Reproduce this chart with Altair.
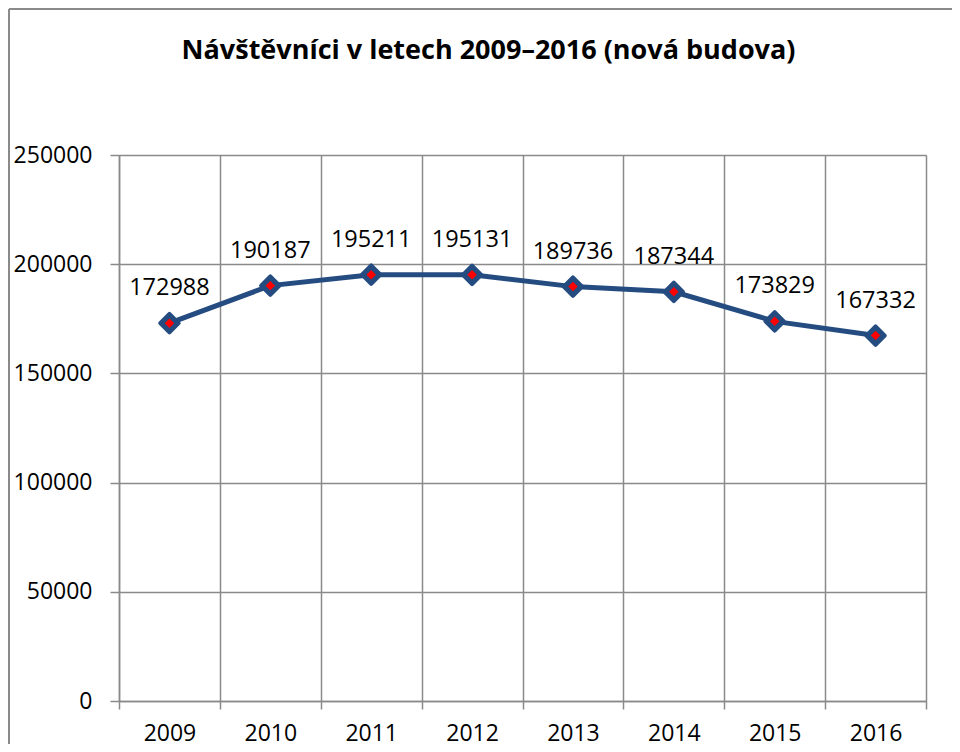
import altair as alt
import pandas as pd

years = [2009, 2010, 2011, 2012, 2013, 2014, 2015, 2016]
visitors = [172988, 190187, 195211, 195131, 189736, 187344, 173829, 167332]
y_ticks = [0, 50000, 100000, 150000, 200000, 250000]
title_text = "Návštěvníci v letech 2009–2016 (nová budova)"

df = pd.DataFrame({"year": years, "visitors": visitors})

FONT = "Open Sans"
GRAY = "#8a8a8a"
BLUE = "#254C80"
FS = 23

x_values = [y - 0.5 for y in years] + [years[-1] + 0.5] + years

x_enc = alt.X(
    "year:Q",
    scale=alt.Scale(domain=[years[0] - 0.5, years[-1] + 0.5], nice=False, zero=False),
    axis=alt.Axis(
        title=None,
        values=x_values,
        labelExpr="datum.value % 1 === 0 ? format(datum.value, 'd') : ''",
        labelFont=FONT,
        labelFontSize=FS,
        labelColor="black",
        labelPadding=13,
        labelFlush=False,
        labelOverlap=False,
        tickSize=8,
        tickColor=GRAY,
        tickWidth=1.5,
        tickOpacity={"condition": {"test": "datum.value % 1 !== 0", "value": 1}, "value": 0},
        grid=True,
        gridColor=GRAY,
        gridWidth=1.5,
        gridOpacity={"condition": {"test": "datum.value % 1 !== 0", "value": 1}, "value": 0},
        domainColor=GRAY,
        domainWidth=1.5,
    ),
)

y_enc = alt.Y(
    "visitors:Q",
    scale=alt.Scale(domain=[0, 250000], nice=False),
    axis=alt.Axis(
        title=None,
        values=y_ticks,
        format="d",
        labelFont=FONT,
        labelFontSize=FS,
        labelColor="black",
        labelPadding=18,
        tickSize=9,
        tickColor=GRAY,
        tickWidth=1.5,
        grid=True,
        gridColor=GRAY,
        gridWidth=1.5,
        domainColor=GRAY,
        domainWidth=1.5,
    ),
)

base = alt.Chart(df)

line = base.mark_line(color=BLUE, strokeWidth=5).encode(x=x_enc, y=y_enc)
outer = base.mark_point(
    shape="diamond", filled=True, fill=BLUE, stroke=BLUE, strokeWidth=4,
    strokeJoin="round", size=340, opacity=1
).encode(x="year:Q", y="visitors:Q")
inner = base.mark_point(
    shape="diamond", filled=True, fill="#ff0000", size=90, opacity=1
).encode(x="year:Q", y="visitors:Q")
labels = base.mark_text(
    font=FONT, fontSize=23.5, color="black", baseline="alphabetic", align="center", dy=-28
).encode(x="year:Q", y="visitors:Q", text=alt.Text("visitors:Q", format="d"))

frame_left = base.mark_rule(color=GRAY, strokeWidth=2).encode(
    x=alt.value(-110), y=alt.value(-146), y2=alt.value(700)
)
frame_top = base.mark_rule(color=GRAY, strokeWidth=2).encode(
    x=alt.value(-110), x2=alt.value(900), y=alt.value(-146)
)

chart = alt.layer(frame_left, frame_top, line, outer, inner, labels).properties(
    width=807,
    height=546,
    title=alt.TitleParams(
        text=title_text,
        font=FONT,
        fontSize=27,
        fontWeight="bold",
        color="black",
        anchor="middle",
        frame="group",
        baseline="alphabetic",
        offset=-78,
        dx=-34,
    ),
    autosize=alt.AutoSizeParams(type="none"),
    padding={"left": 111, "top": 147, "right": 26, "bottom": 43},
).configure_view(stroke=None).configure(background="white")

chart.save("out.html", embed_options={"renderer": "svg", "actions": False})
